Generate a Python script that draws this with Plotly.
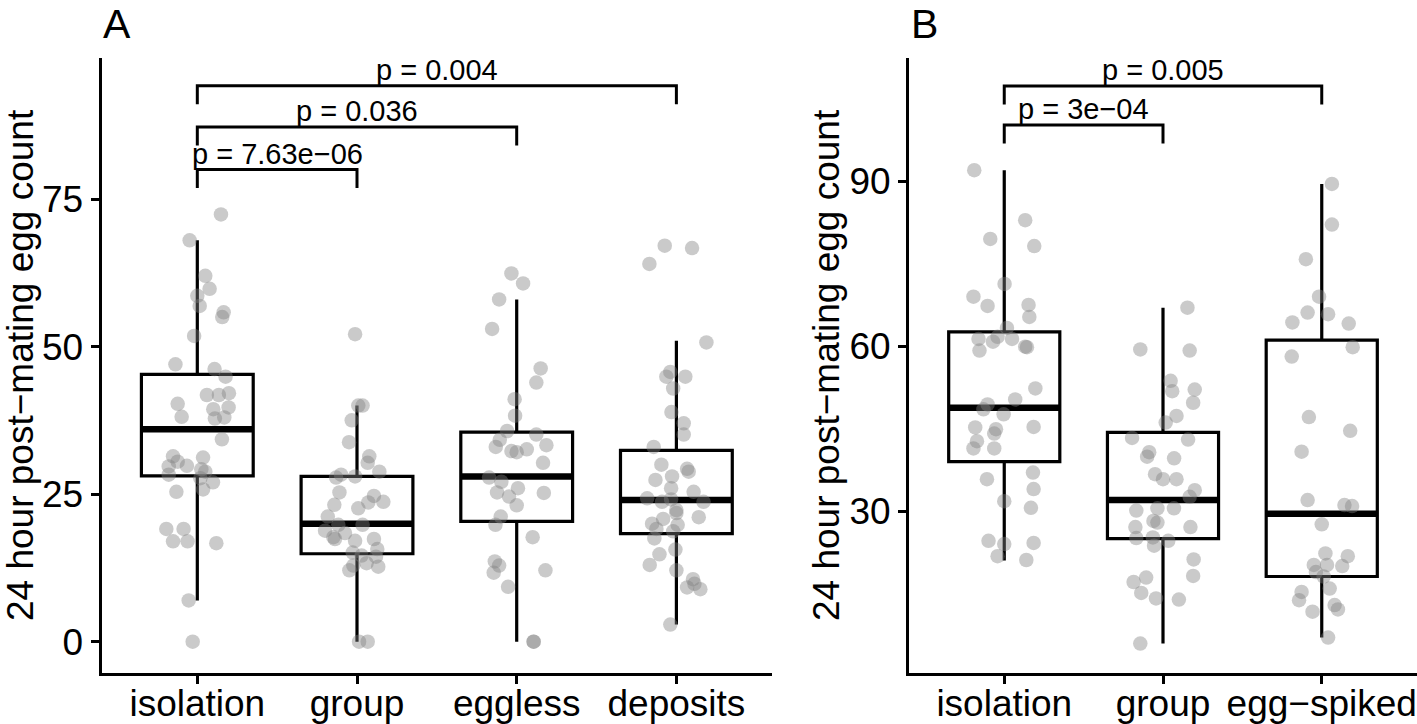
import plotly.graph_objects as go

# ---------------- data ----------------
cats_a = ["isolation", "group", "eggless", "deposits"]
cats_b = ["isolation", "group", "egg\u2212spiked"]

# Panel A points (values) and horizontal jitter
a_isolation = [72.4, 68.0, 62.0, 59.8, 58.6, 56.9, 55.8, 55.0, 51.8, 47.0, 46.2, 44.9, 41.8, 41.8,
               42.1, 40.3, 39.4, 39.7, 38.1, 37.8, 38.0, 34.3, 31.4, 30.5, 31.2, 29.7, 29.8, 29.2,
               28.8, 28.3, 27.7, 27.0, 25.8, 25.4, 19.1, 19.1, 17.0, 17.0, 16.7, 7.0, 0.0]
a_isolation_jit = [0.148, -0.048, 0.05, 0.077, 0.0, 0.015, 0.165, 0.156, -0.02, -0.137, 0.108, 0.177,
                   0.06, 0.135, 0.198, -0.123, 0.10, 0.196, -0.098, 0.11, 0.169, 0.154, -0.152, -0.123,
                   0.036, -0.179, -0.065, 0.025, 0.05, -0.179, 0.019, 0.098, 0.036, -0.131, -0.194,
                   -0.086, -0.152, -0.061, 0.119, -0.054, -0.029]
a_group = [52.1, 40.0, 40.0, 37.5, 33.8, 31.4, 30.3, 28.8, 28.3, 27.8, 28.0, 25.3, 24.7, 23.7, 23.6,
           23.2, 22.6, 21.2, 19.8, 19.8, 18.8, 18.4, 17.7, 17.4, 17.1, 17.4, 15.7, 15.1, 14.6, 14.4,
           13.3, 12.9, 12.7, 12.1, 0.0, 0.0]
a_group_jit = [-0.012, 0.035, 0.008, -0.033, -0.05, 0.077, 0.067, 0.14, -0.1, -0.131, -0.012, -0.11,
               0.106, 0.165, 0.071, -0.142, 0.008, -0.183, -0.117, 0.035, -0.2, -0.075, -0.148, -0.138,
               -0.012, 0.106, 0.127, -0.027, 0.029, 0.119, 0.06, -0.023, 0.133, -0.048, 0.013, 0.067]
a_eggless = [62.4, 60.7, 58.0, 53.0, 46.3, 43.9, 41.1, 38.3, 35.7, 35.1, 34.2, 33.0, 33.3, 32.3, 32.1,
             32.6, 30.3, 27.8, 27.1, 25.3, 26.0, 24.6, 25.2, 23.1, 21.2, 19.8, 17.7, 13.6, 12.9, 11.7,
             12.1, 9.3, 0.0, 0.0]
a_eggless_jit = [-0.033, 0.04, -0.11, -0.154, 0.15, 0.123, -0.013, -0.01, -0.06, 0.123, -0.106, -0.131,
                 0.186, -0.033, 0.0, 0.063, 0.165, -0.173, -0.096, -0.123, 0.008, -0.048, 0.17, 0.0,
                 -0.1, -0.133, 0.10, -0.137, -0.11, -0.144, 0.18, -0.054, 0.106, 0.106]
a_deposits = [67.1, 66.7, 64.0, 50.7, 45.7, 44.9, 44.9, 42.9, 38.9, 37.0, 35.1, 33.0, 30.0, 29.3, 28.8,
              27.4, 28.0, 26.0, 25.4, 24.3, 23.7, 24.1, 23.7, 22.3, 21.8, 21.1, 20.8, 20.0, 19.8, 19.1,
              18.7, 17.5, 15.6, 14.8, 13.0, 12.1, 10.6, 9.2, 9.8, 8.9, 2.9]
a_deposits_jit = [-0.073, 0.098, -0.169, 0.188, -0.038, -0.063, 0.056, -0.02, -0.031, 0.046, 0.046,
                  -0.142, -0.094, 0.067, 0.077, -0.131, -0.027, -0.033, 0.108, -0.183, -0.09, -0.033,
                  0.17, 0.0, 0.0, 0.14, -0.083, -0.152, 0.008, -0.125, -0.02, -0.138, -0.006, -0.106,
                  -0.167, 0.0, 0.104, 0.067, 0.113, 0.15, -0.038]

# Panel A box statistics
a_q1 = [28.1, 14.9, 20.4, 18.3]
a_median = [36.0, 20.0, 28.0, 24.0]
a_q3 = [45.3, 28.0, 35.5, 32.4]
a_lower = [7.0, 0.0, 0.0, 2.9]
a_upper = [68.0, 40.0, 58.0, 51.0]

# Panel B points
b_isolation = [92.0, 82.9, 79.5, 78.2, 71.3, 69.0, 67.3, 67.5, 65.3, 63.3, 61.7, 61.3, 60.8, 61.3,
               59.9, 59.8, 59.2, 52.3, 50.3, 49.4, 48.5, 47.6, 45.2, 44.9, 44.1, 45.3, 42.7, 41.4,
               41.4, 37.0, 35.8, 34.0, 31.8, 30.6, 24.6, 24.0, 24.2, 21.8, 21.1]
b_isolation_jit = [-0.189, 0.132, -0.088, 0.189, 0.002, -0.194, -0.105, 0.153, 0.158, 0.017, -0.042,
                   -0.162, -0.071, 0.049, 0.132, 0.143, -0.156, 0.196, 0.069, -0.105, -0.131, -0.004,
                   -0.183, -0.052, -0.063, 0.185, -0.172, -0.194, -0.063, 0.181, -0.109, 0.185, 0.0,
                   0.168, -0.099, 0.0, 0.185, -0.042, 0.139]
b_group = [67.0, 59.4, 59.2, 53.7, 51.8, 52.1, 49.7, 47.3, 46.1, 43.3, 43.0, 40.7, 39.9, 39.6, 36.7,
           35.8, 35.8, 33.8, 32.6, 30.1, 30.5, 30.5, 27.1, 28.2, 27.9, 27.1, 25.1, 25.2, 23.7, 24.6,
           21.2, 18.2, 17.9, 17.1, 15.1, 14.1, 13.9, 5.9]
b_group_jit = [0.154, -0.143, 0.168, 0.048, 0.058, 0.2, 0.19, 0.085, 0.017, -0.195, 0.158, -0.087,
               -0.1, 0.07, -0.05, 0.0, 0.085, 0.2, 0.168, -0.168, -0.035, 0.069, -0.174, -0.06, -0.035,
               0.173, -0.168, -0.064, -0.056, 0.033, 0.193, 0.19, -0.106, -0.185, -0.137, -0.044, 0.1,
               -0.143]
b_eggspiked = [89.5, 82.1, 75.8, 69.0, 66.1, 65.8, 64.3, 64.1, 59.8, 58.1, 47.1, 44.6, 40.8, 32.0,
               31.1, 30.9, 27.6, 22.3, 21.8, 20.2, 20.2, 20.0, 18.9, 18.1, 15.9, 15.3, 13.8, 12.9,
               12.1, 11.7, 7.0]
b_eggspiked_jit = [0.064, 0.064, -0.1, -0.017, -0.089, 0.04, -0.185, 0.17, 0.195, -0.189, -0.081,
                   0.179, -0.127, -0.089, 0.143, 0.191, 0.0, 0.023, 0.164, -0.05, 0.033, 0.129, -0.037,
                   0.012, 0.05, -0.127, -0.143, 0.081, 0.102, -0.058, 0.04]

# Panel B box statistics
b_q1 = [39.0, 25.0, 18.1]
b_median = [48.8, 32.0, 29.5]
b_q3 = [62.6, 44.3, 61.1]
b_lower = [21.0, 5.9, 7.0]
b_upper = [92.0, 67.0, 89.5]

# Pairwise comparisons (group index from, to, bracket height, label)
a_cmp_from = [1, 1, 1]
a_cmp_to = [2, 3, 4]
a_cmp_y = [80.0, 87.2, 94.2]
a_cmp_label = ["p = 7.63e\u221206", "p = 0.036", "p = 0.004"]

b_cmp_from = [1, 1]
b_cmp_to = [2, 3]
b_cmp_y = [100.2, 107.3]
b_cmp_label = ["p = 3e\u221204", "p = 0.005"]

y_title = "24 hour post\u2212mating egg count"

# ---------------- style ----------------
FONT = "Liberation Sans, Arial, Helvetica, sans-serif"
BOXW = 0.7
PT_COLOR = "rgba(128,128,128,0.42)"
A_YRANGE = [-5.22, 98.9]
B_YRANGE = [0.64, 112.4]

fig = go.Figure()


def add_panel(points, jits, q1, med, q3, lo, hi, xa, ya):
    n = len(q1)
    pos = list(range(1, n + 1))
    fig.add_trace(go.Box(
        x=pos, q1=q1, median=med, q3=q3, lowerfence=lo, upperfence=hi,
        width=BOXW, whiskerwidth=0, boxpoints=False,
        fillcolor="white", line=dict(color="black", width=3.2),
        xaxis=xa, yaxis=ya, showlegend=False, hoverinfo="skip"))
    # thicker median bars
    mx, my = [], []
    for p, m in zip(pos, med):
        mx += [p - BOXW / 2, p + BOXW / 2, None]
        my += [m, m, None]
    fig.add_trace(go.Scatter(x=mx, y=my, mode="lines",
                             line=dict(color="black", width=6.5),
                             xaxis=xa, yaxis=ya, showlegend=False, hoverinfo="skip"))
    # jittered points
    for p, ys, js in zip(pos, points, jits):
        fig.add_trace(go.Scatter(
            x=[p + j for j in js], y=ys, mode="markers",
            marker=dict(size=14.5, color=PT_COLOR, line=dict(width=0)),
            xaxis=xa, yaxis=ya, showlegend=False, hoverinfo="skip"))


def add_brackets(cfrom, cto, cy, labels, yrange, xa, ya, xref, yref):
    tip = 0.03 * (yrange[1] - yrange[0])
    bx, by = [], []
    for i, j, y in zip(cfrom, cto, cy):
        bx += [i, i, j, j, None]
        by += [y - tip, y, y, y - tip, None]
    fig.add_trace(go.Scatter(x=bx, y=by, mode="lines",
                             line=dict(color="black", width=3),
                             xaxis=xa, yaxis=ya, showlegend=False, hoverinfo="skip"))
    for i, j, y, t in zip(cfrom, cto, cy, labels):
        fig.add_annotation(x=(i + j) / 2, y=y, xref=xref, yref=yref, text=t,
                           showarrow=False, yanchor="bottom", xanchor="center",
                           yshift=-2, font=dict(size=29, color="black", family=FONT))


add_panel([a_isolation, a_group, a_eggless, a_deposits],
          [a_isolation_jit, a_group_jit, a_eggless_jit, a_deposits_jit],
          a_q1, a_median, a_q3, a_lower, a_upper, "x", "y")
add_panel([b_isolation, b_group, b_eggspiked],
          [b_isolation_jit, b_group_jit, b_eggspiked_jit],
          b_q1, b_median, b_q3, b_lower, b_upper, "x2", "y2")

add_brackets(a_cmp_from, a_cmp_to, a_cmp_y, a_cmp_label, A_YRANGE, "x", "y", "x", "y")
add_brackets(b_cmp_from, b_cmp_to, b_cmp_y, b_cmp_label, B_YRANGE, "x2", "y2", "x2", "y2")

W, H = 1417, 724
axis_common = dict(showline=True, linewidth=3, linecolor="black", ticks="outside",
                   ticklen=8, tickwidth=3, tickcolor="black", showgrid=False, zeroline=False,
                   automargin=False,
                   tickfont=dict(size=37, color="black", family=FONT), fixedrange=True)
ydom = [(H - 672.5) / H, (H - 58) / H]

fig.update_layout(
    width=W, height=H, margin=dict(l=0, r=0, t=0, b=0, pad=0, autoexpand=False),
    paper_bgcolor="white", plot_bgcolor="white", showlegend=False,
    font=dict(family=FONT, color="black"),
    xaxis=dict(domain=[101.5 / W, 772.2 / W], range=[0.4, 4.6], ticklabelstandoff=-12,
               tickvals=list(range(1, len(cats_a) + 1)), ticktext=cats_a, **axis_common),
    yaxis=dict(domain=ydom, range=A_YRANGE, tickvals=[0, 25, 50, 75], **axis_common),
    xaxis2=dict(domain=[909 / W, 1.0], range=[0.4, 3.6], anchor="y2", ticklabelstandoff=-12,
                tickvals=list(range(1, len(cats_b) + 1)), ticktext=cats_b, **axis_common),
    yaxis2=dict(domain=ydom, range=B_YRANGE, anchor="x2", tickvals=[30, 60, 90], **axis_common),
)

# axis titles and panel tags
for xpix in (20, 826):
    fig.add_annotation(x=xpix / W, y=(H - 365) / H, xref="paper", yref="paper", text=y_title,
                       textangle=-90, showarrow=False, xanchor="center", yanchor="middle",
                       font=dict(size=37, color="black", family=FONT))
for tag, xpix in (("A", 102), ("B", 910)):
    fig.add_annotation(x=xpix / W, y=1.0, xref="paper", yref="paper", text=tag,
                       showarrow=False, xanchor="left", yanchor="top", borderpad=0,
                       font=dict(size=41, color="black", family=FONT))

fig.write_html("out.html", config={"displayModeBar": False},
               post_script="document.body.style.margin='0';document.body.style.overflow='hidden';")
